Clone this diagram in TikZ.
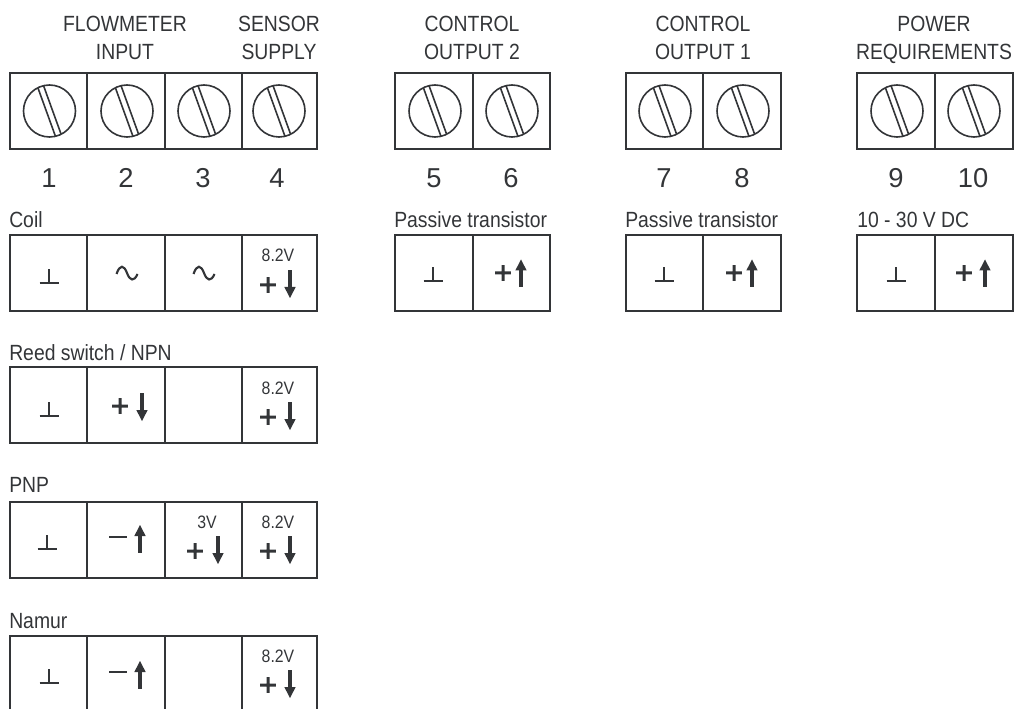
\documentclass[tikz,border=0pt]{standalone}
\usepackage{fontspec}
\setmainfont[FakeStretch=0.88]{Liberation Sans}
\newfontfamily\numfont{Liberation Sans}
\definecolor{ink}{HTML}{333538}
\tikzset{
  boxline/.style={draw=ink,line width=1.5pt,line join=miter},
  screwline/.style={draw=ink,line width=1.2pt},
  symline/.style={draw=ink,line width=1.3pt},
  shaftline/.style={draw=ink,line width=2.7pt},
  head/.style={text=ink,font=\fontsize{16.5pt}{16.5pt}\selectfont,inner sep=0pt,anchor=base},
  caption/.style={text=ink,font=\fontsize{16.5pt}{16.5pt}\selectfont,inner sep=0pt,anchor=base west},
  number/.style={text=ink,font=\numfont\fontsize{20.5pt}{20.5pt}\selectfont,inner sep=0pt,anchor=base},
  volt/.style={text=ink,font=\fontsize{13.5pt}{13.5pt}\selectfont,inner sep=0pt,anchor=base},
  pics/screw/.style={code={
    \draw[screwline] (0,0) circle[radius=26];
    \draw[screwline] (-11.6,-23.2) -- (5.95,25.3) (-5.95,-25.3) -- (11.6,23.2);
  }},
  pics/gnd/.style={code={
    \draw[symline] (-9.5,0) -- (9.5,0) (0,0) -- (0,-14);
  }},
  pics/wave/.style={code={
    \draw[draw=ink,line width=1.6pt] (-10.5,1) .. controls (-7,-9) and (-3,-8) .. (0,0) .. controls (3,8) and (7,9) .. (10.5,1);
  }},
  pics/plussign/.style={code={
    \fill[ink] (-7.8,-1.5) rectangle (7.8,1.5) (-1.5,-7.8) rectangle (1.5,7.8);
  }},
  pics/minussign/.style={code={
    \fill[ink] (-8.7,-1.4) rectangle (8.7,1.4);
  }},
  pics/downarrow/.style={code={
    \fill[ink] (-1.8,-14) rectangle (1.8,4);
    \fill[ink] (-5.7,3) -- (5.7,3) -- (0,14) -- cycle;
  }},
  pics/uparrow/.style={code={
    \fill[ink] (-1.8,14) rectangle (1.8,-4);
    \fill[ink] (-5.7,-3) -- (5.7,-3) -- (0,-14) -- cycle;
  }},
}
\newcommand{\termrow}[3]{%
  \foreach \tx [remember=\tx as \px (initially #1)] in {#2}{%
    \draw[boxline] (\px,#3) rectangle (\tx,#3+76);
  }%
}
\begin{document}
\begin{tikzpicture}[x=0.75pt,y=-0.75pt]
\useasboundingbox (0,0) rectangle (1014,709);
\clip (0,0) rectangle (1014,709);
% terminal strips
\termrow{10}{87,164.5,241.5,317}{73}
\termrow{395}{473,550}{73}
\termrow{626}{703,781}{73}
\termrow{857}{935,1012.5}{73}
\foreach \sx in {49.5,127,204,279,435,512,665,743,897,974}{
  \pic at (\sx,111) {screw};
}
% headers
\node[head] (h1a) at (125,32) {FLOWMETER};
\node[head] (h1b) at (125,60) {INPUT};
\node[head] (h2a) at (279,32) {SENSOR};
\node[head] (h2b) at (279,60) {SUPPLY};
\node[head] (h3a) at (472,32) {CONTROL};
\node[head] (h3b) at (472,60) {OUTPUT 2};
\node[head] (h4a) at (703,32) {CONTROL};
\node[head] (h4b) at (703,60) {OUTPUT 1};
\node[head] (h5a) at (934,32) {POWER};
\node[head] (h5b) at (934,60) {REQUIREMENTS};
% numbers
\node[number] (n1) at (49,188) {1};
\node[number] (n2) at (126,188) {2};
\node[number] (n3) at (203,188) {3};
\node[number] (n4) at (277,188) {4};
\node[number] (n5) at (434,188) {5};
\node[number] (n6) at (511,188) {6};
\node[number] (n7) at (664,188) {7};
\node[number] (n8) at (742,188) {8};
\node[number] (n9) at (896,188) {9};
\node[number] (n10) at (973,188) {10};
% captions
\node[caption] (c1) at (9,228) {Coil};
\node[caption] (c2) at (9,360) {Reed switch / NPN};
\node[caption] (c3) at (9,492) {PNP};
\node[caption] (c4) at (9,628) {Namur};
\node[caption] (c5) at (394,228) {Passive transistor};
\node[caption] (c6) at (625,228) {Passive transistor};
\node[caption] (c7) at (857,228) {10 - 30 V DC};
% wiring rows
\termrow{10}{87,164.5,241.5,317}{235}
\termrow{10}{87,164.5,241.5,317}{367}
\termrow{10}{87,164.5,241.5,317}{501.5}
\termrow{10}{87,164.5,241.5,317}{636}
\termrow{395}{473,550}{235}
\termrow{626}{703,781}{235}
\termrow{857}{935,1012.5}{235}
% coil
\pic at (49,283) {gnd};
\pic at (127,273) {wave};
\pic at (204,273) {wave};
\node[volt] (v1) at (278,262) {8.2V};
\pic at (268,285) {plussign};
\pic at (290,284) {downarrow};
% reed
\pic at (49,416) {gnd};
\pic at (120,406) {plussign};
\pic at (142,407) {downarrow};
\node[volt] (v2) at (278,394) {8.2V};
\pic at (268,417) {plussign};
\pic at (290,416) {downarrow};
% pnp
\pic at (47,549) {gnd};
\pic at (118,537) {minussign};
\pic at (140,539) {uparrow};
\node[volt] (v3) at (207,528) {3V};
\pic at (195,551) {plussign};
\pic at (218,550) {downarrow};
\node[volt] (v4) at (278,528) {8.2V};
\pic at (268,551) {plussign};
\pic at (290,550) {downarrow};
% namur
\pic at (49,683) {gnd};
\pic at (118,672) {minussign};
\pic at (140,675) {uparrow};
\node[volt] (v5) at (278,662) {8.2V};
\pic at (268,685) {plussign};
\pic at (290,684) {downarrow};
% right groups
\pic at (433,281) {gnd};
\pic at (503,273) {plussign};
\pic at (521,273.5) {uparrow};
\pic at (664,281) {gnd};
\pic at (734,273) {plussign};
\pic at (752,273.5) {uparrow};
\pic at (896,281) {gnd};
\pic at (964,273) {plussign};
\pic at (985,273.5) {uparrow};
\end{tikzpicture}
\end{document}
